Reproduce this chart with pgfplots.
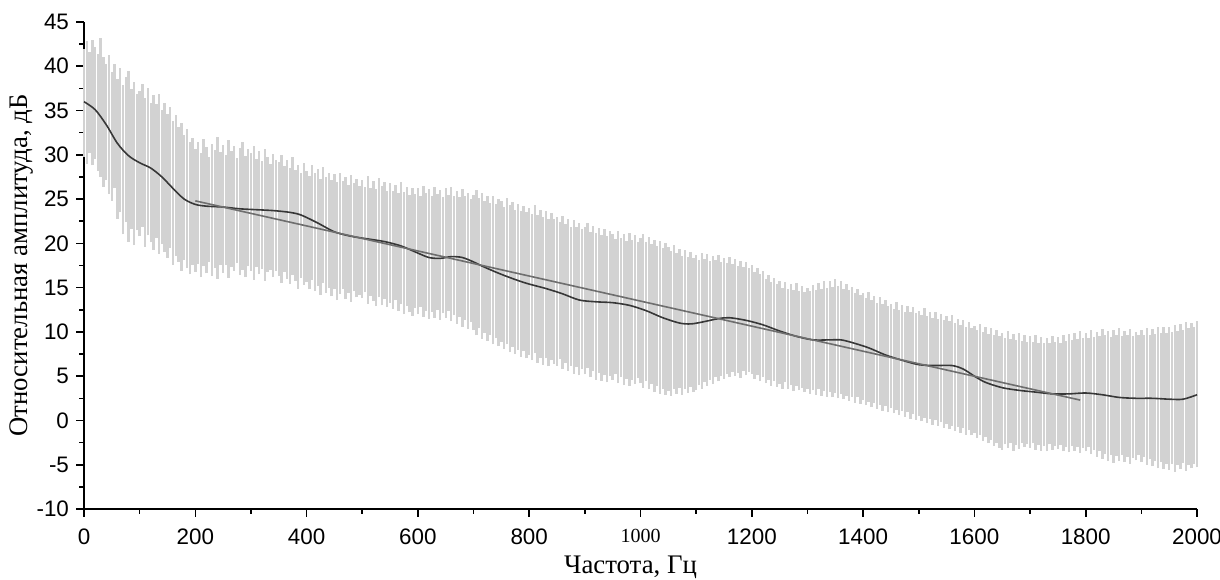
\documentclass[border=0pt]{standalone}
\usepackage{fontspec}
\setmainfont{Liberation Serif}
\setsansfont{Liberation Sans}
\usepackage{pgfplots}
\usepackage{pgfplotstable}
\pgfplotsset{compat=1.18}
\definecolor{bandgray}{RGB}{210,210,210}
\definecolor{curvegray}{RGB}{55,55,55}
\definecolor{fitgray}{RGB}{110,110,110}

% spectrum: frequency, lower and upper level of each line
\pgfplotstableread{
f lo hi
0 29.8 42.0
5 29.0 42.8
10 30.2 41.6
15 28.8 43.0
20 29.5 42.2
25 28.2 41.4
30 27.5 43.2
35 26.4 41.0
40 27.2 40.2
45 25.6 41.3
50 24.8 39.4
55 26.2 40.2
60 22.8 38.6
65 23.5 39.8
70 21.0 37.9
75 22.4 38.8
80 20.2 39.5
85 21.6 37.4
90 19.8 38.2
95 21.5 36.9
100 20.8 37.2
105 21.9 38.0
110 19.6 36.4
115 20.9 37.6
120 20.1 35.9
125 19.3 36.8
130 20.6 35.7
135 18.8 36.9
140 19.9 35.1
145 19.0 35.8
150 18.4 34.6
155 19.5 35.4
160 17.6 33.8
165 18.6 34.5
170 17.9 33.1
175 16.9 33.6
180 18.1 32.2
185 17.2 32.9
190 16.5 31.4
195 17.6 31.9
200 16.8 30.6
205 17.7 31.5
210 16.2 30.2
215 17.4 31.8
220 16.6 30.9
225 17.9 29.8
230 16.3 31.2
235 17.2 30.5
240 16.0 32.0
245 17.5 30.3
250 16.7 31.1
255 17.6 30.0
260 16.1 31.7
265 17.3 30.4
270 16.9 31.0
275 17.8 29.6
280 16.4 30.8
285 17.0 31.4
290 16.2 29.9
295 17.4 30.6
300 16.9 30.2
305 15.9 31.0
310 17.3 29.5
315 16.5 30.4
320 17.1 29.3
325 15.8 30.7
330 16.8 29.8
335 17.0 29.0
340 16.2 30.1
345 16.9 29.4
350 16.3 29.2
355 15.5 30.0
360 16.8 28.7
365 16.0 29.4
370 15.4 28.5
375 16.4 29.7
380 15.8 28.3
385 14.9 28.9
390 16.1 28.0
395 15.3 29.1
400 15.6 28.2
405 14.8 27.6
410 15.9 28.9
415 14.6 27.9
420 15.2 28.4
425 14.2 27.3
430 15.5 28.6
435 14.4 27.5
440 15.0 28.0
445 14.0 27.1
450 14.8 27.8
455 13.6 26.9
460 14.3 27.9
465 14.9 27.0
470 13.7 27.5
475 14.4 26.6
480 13.4 27.7
485 14.6 26.8
490 13.9 27.3
495 14.2 26.5
500 13.8 27.2
505 14.5 26.4
510 13.2 27.6
515 14.1 26.3
520 13.5 27.0
525 12.9 26.1
530 13.9 27.4
535 13.0 26.5
540 13.7 26.9
545 12.8 25.9
550 13.3 26.8
555 12.6 25.9
560 13.6 26.6
565 12.4 25.7
570 13.1 26.9
575 12.0 25.8
580 12.9 26.4
585 12.2 25.5
590 11.8 26.2
595 12.7 25.6
600 12.0 26.3
605 12.8 25.4
610 11.7 26.5
615 12.4 25.7
620 11.5 26.1
625 12.3 25.3
630 11.6 26.4
635 12.5 25.6
640 11.4 26.0
645 12.1 25.2
650 11.6 26.2
655 12.4 25.5
660 11.2 26.4
665 11.9 25.3
670 10.9 25.9
675 11.7 25.2
680 10.6 26.1
685 11.4 25.4
690 10.3 25.7
695 11.1 25.0
700 10.2 25.5
705 9.6 26.0
710 10.4 25.1
715 9.2 25.7
720 9.9 24.8
725 9.0 25.4
730 9.7 24.6
735 8.6 25.3
740 9.3 24.5
745 8.4 25.0
750 8.9 24.8
755 8.1 24.1
760 8.6 25.1
765 7.7 24.3
770 8.3 24.7
775 7.5 23.8
780 8.0 24.5
785 7.2 23.7
790 7.8 24.2
795 7.0 23.5
800 7.4 24.0
805 6.8 23.3
810 7.6 24.3
815 6.5 23.2
820 7.1 23.8
825 6.3 23.0
830 7.0 23.6
835 6.1 22.8
840 6.8 23.4
845 6.4 22.7
850 6.2 23.0
855 6.9 22.4
860 5.8 23.1
865 6.5 22.2
870 5.6 22.8
875 6.2 21.9
880 5.3 22.6
885 6.0 21.8
890 5.1 22.3
895 5.8 21.6
900 5.2 21.8
905 5.9 22.3
910 4.9 21.3
915 5.6 22.0
920 4.6 21.2
925 5.4 21.7
930 4.5 20.9
935 5.1 21.6
940 4.3 20.8
945 5.0 21.4
950 4.6 21.0
955 5.2 20.5
960 4.2 21.4
965 4.9 20.6
970 4.0 21.1
975 4.7 20.3
980 3.9 21.2
985 4.6 20.4
990 4.1 20.9
995 4.8 20.2
1000 4.2 20.6
1005 3.7 21.0
1010 4.5 20.1
1015 3.5 20.7
1020 4.1 19.9
1025 3.2 20.4
1030 3.9 19.7
1035 3.0 20.3
1040 3.6 19.5
1045 2.9 20.0
1050 3.3 19.6
1055 2.8 19.1
1060 3.6 19.8
1065 3.0 18.9
1070 3.7 19.4
1075 2.9 18.6
1080 3.5 19.3
1085 3.1 18.5
1090 3.8 19.0
1095 3.2 18.4
1100 3.4 18.7
1105 4.0 18.1
1110 3.6 18.9
1115 4.3 18.2
1120 3.9 18.8
1125 4.6 18.0
1130 4.1 18.6
1135 4.9 18.1
1140 4.4 18.7
1145 5.0 17.9
1150 4.7 18.4
1155 5.3 17.8
1160 4.9 18.5
1165 5.5 17.7
1170 5.0 18.2
1175 5.4 17.4
1180 4.8 18.0
1185 5.6 17.3
1190 5.1 17.9
1195 5.5 17.2
1200 5.3 17.5
1205 4.7 16.8
1210 5.1 17.2
1215 4.4 16.5
1220 4.9 16.9
1225 4.2 16.0
1230 4.6 16.4
1235 3.9 15.6
1240 4.5 16.1
1245 3.8 15.4
1250 4.1 15.7
1255 3.6 15.0
1260 4.3 15.6
1265 3.5 14.8
1270 4.0 15.4
1275 3.3 14.7
1280 3.9 15.5
1285 3.4 14.6
1290 3.7 15.2
1295 3.2 14.5
1300 3.6 15.0
1305 3.0 14.6
1310 3.4 15.3
1315 2.9 14.7
1320 3.5 15.5
1325 2.8 14.9
1330 3.3 15.7
1335 2.7 15.0
1340 3.2 15.8
1345 2.6 15.1
1350 3.1 16.0
1355 2.5 15.2
1360 3.0 15.7
1365 2.4 14.9
1370 2.8 15.4
1375 2.2 14.7
1380 2.7 15.1
1385 2.0 14.4
1390 2.6 14.9
1395 1.9 14.2
1400 2.3 14.4
1405 1.7 13.8
1410 2.1 14.5
1415 1.5 13.6
1420 2.0 14.1
1425 1.3 13.3
1430 1.8 13.9
1435 1.1 13.1
1440 1.6 13.6
1445 0.9 12.9
1450 1.4 13.1
1455 0.8 12.6
1460 1.2 13.4
1465 0.6 12.5
1470 1.1 13.0
1475 0.4 12.3
1480 0.9 12.9
1485 0.2 12.2
1490 0.7 12.8
1495 0.1 12.1
1500 0.5 12.4
1505 -0.1 11.9
1510 0.3 12.7
1515 -0.3 11.8
1520 0.2 12.3
1525 -0.5 11.6
1530 0.0 12.2
1535 -0.6 11.5
1540 -0.2 12.0
1545 -0.8 11.4
1550 -0.4 11.8
1555 -1.0 11.2
1560 -0.6 11.9
1565 -1.2 11.0
1570 -0.7 11.5
1575 -1.4 10.8
1580 -0.9 11.3
1585 -1.6 10.6
1590 -1.1 11.1
1595 -1.7 10.4
1600 -1.4 10.7
1605 -2.0 10.2
1610 -1.6 10.9
1615 -2.3 10.0
1620 -1.9 10.5
1625 -2.6 9.8
1630 -2.2 10.4
1635 -2.9 9.7
1640 -2.5 10.2
1645 -3.1 9.5
1650 -3.3 9.9
1655 -2.7 9.3
1660 -3.1 10.1
1665 -2.6 9.2
1670 -3.4 9.8
1675 -2.8 9.1
1680 -3.2 9.9
1685 -2.5 9.0
1690 -3.0 9.6
1695 -2.7 8.9
1700 -3.1 9.5
1705 -2.6 8.9
1710 -3.3 9.7
1715 -2.8 8.8
1720 -3.4 9.4
1725 -2.9 8.7
1730 -3.5 9.3
1735 -2.7 8.8
1740 -3.3 9.5
1745 -2.9 8.9
1750 -3.2 9.4
1755 -2.8 8.8
1760 -3.5 9.6
1765 -3.0 9.0
1770 -3.6 9.8
1775 -2.9 9.1
1780 -3.4 9.9
1785 -3.0 9.2
1790 -3.7 10.1
1795 -3.1 9.3
1800 -3.5 9.9
1805 -3.0 9.3
1810 -3.8 10.2
1815 -3.3 9.4
1820 -4.1 10.0
1825 -3.5 9.5
1830 -4.3 10.3
1835 -3.8 9.6
1840 -4.6 10.1
1845 -3.9 9.4
1850 -4.8 10.2
1855 -4.0 9.6
1860 -4.6 10.4
1865 -3.9 9.5
1870 -4.7 10.1
1875 -4.1 9.7
1880 -4.9 10.3
1885 -4.2 9.5
1890 -4.5 10.0
1895 -3.9 9.6
1900 -4.7 10.2
1905 -4.1 9.6
1910 -5.0 10.4
1915 -4.4 9.7
1920 -5.2 10.3
1925 -4.6 9.8
1930 -5.4 10.5
1935 -4.7 9.9
1940 -5.5 10.6
1945 -4.9 9.9
1950 -5.6 10.5
1955 -4.9 10.0
1960 -5.8 10.8
1965 -5.0 10.1
1970 -5.5 10.9
1975 -4.8 10.2
1980 -5.7 11.1
1985 -5.0 10.4
1990 -5.4 11.0
1995 -4.9 10.5
2000 -5.3 11.2
}\spectrum

\pgfplotstableread{
f a
0 36.0
20 35.1
40 33.4
60 31.3
80 29.9
100 29.1
120 28.5
140 27.5
160 26.2
180 25.0
200 24.4
220 24.2
250 24.1
280 23.9
310 23.8
340 23.7
370 23.5
390 23.2
420 22.3
450 21.3
480 20.8
510 20.5
540 20.2
570 19.7
600 18.9
620 18.4
640 18.3
660 18.5
680 18.4
700 17.9
720 17.3
750 16.5
780 15.8
800 15.4
830 14.9
860 14.3
890 13.6
920 13.4
950 13.3
980 13.0
1010 12.4
1040 11.6
1070 11.0
1090 10.9
1110 11.1
1140 11.5
1160 11.6
1190 11.3
1220 10.8
1250 10.1
1280 9.5
1310 9.1
1340 9.1
1360 9.1
1380 8.8
1410 8.2
1440 7.4
1470 6.8
1500 6.3
1530 6.2
1560 6.2
1580 5.8
1600 5.0
1620 4.3
1650 3.7
1680 3.4
1710 3.2
1740 3.0
1770 3.0
1800 3.1
1830 2.9
1860 2.6
1890 2.5
1920 2.5
1950 2.4
1975 2.4
2000 2.9
}\smoothed

\begin{document}
\begin{tikzpicture}
\begin{axis}[
  scale only axis, width=556.5pt, height=243.5pt,
  xmin=0, xmax=2000, ymin=-10, ymax=45,
  axis x line*=bottom, axis y line*=left,
  axis line style={line width=1pt, -},
  xtick={0,200,...,2000}, ytick={-10,-5,...,45},
  xticklabels={0,200,400,600,800,{\raisebox{-4pt}{\rmfamily\fontsize{10}{10}\selectfont 1000}},1200,1400,1600,1800,2000},
  minor x tick num=1, minor y tick num=1,
  tick align=outside, major tick length=4pt, minor tick length=2.5pt,
  tick style={line width=0.8pt, black},
  /pgf/number format/assume math mode=true,
  /pgf/number format/set thousands separator={},
  tick label style={font=\sffamily\fontsize{11.2}{11.2}\selectfont},
  xticklabel shift=2.5pt, yticklabel shift=0pt,
  label style={font=\rmfamily\fontsize{13.4}{14}\selectfont},
  xlabel={Частота, Гц},
  ylabel={Относительная амплитуда, дБ},
  xlabel style={at={(axis description cs:0.5,0)}, anchor=center, yshift=-29pt, xshift=-5pt},
  ylabel style={at={(axis description cs:0,0.5)}, anchor=center, yshift=31pt},
  clip=false,
]
\addplot[draw=none, mark=none, forget plot,
  error bars/.cd, y dir=plus, y explicit, error mark=none,
  error bar style={draw=bandgray, line width=1.2pt}]
  table[x=f, y=lo, y error expr=\thisrow{hi}-\thisrow{lo}] {\spectrum};
\addplot[curvegray, line width=0.8pt, smooth, mark=none] table[x=f, y=a] {\smoothed};
\addplot[fitgray, line width=0.8pt, mark=none] coordinates {(200,24.8) (1790,2.3)};
\end{axis}
\pgfresetboundingbox
\path[use as bounding box] ([xshift=-42pt, yshift=-35.5pt]current axis.south west)
  rectangle ([xshift=11.5pt, yshift=11pt]current axis.north east);
\end{tikzpicture}
\end{document}
